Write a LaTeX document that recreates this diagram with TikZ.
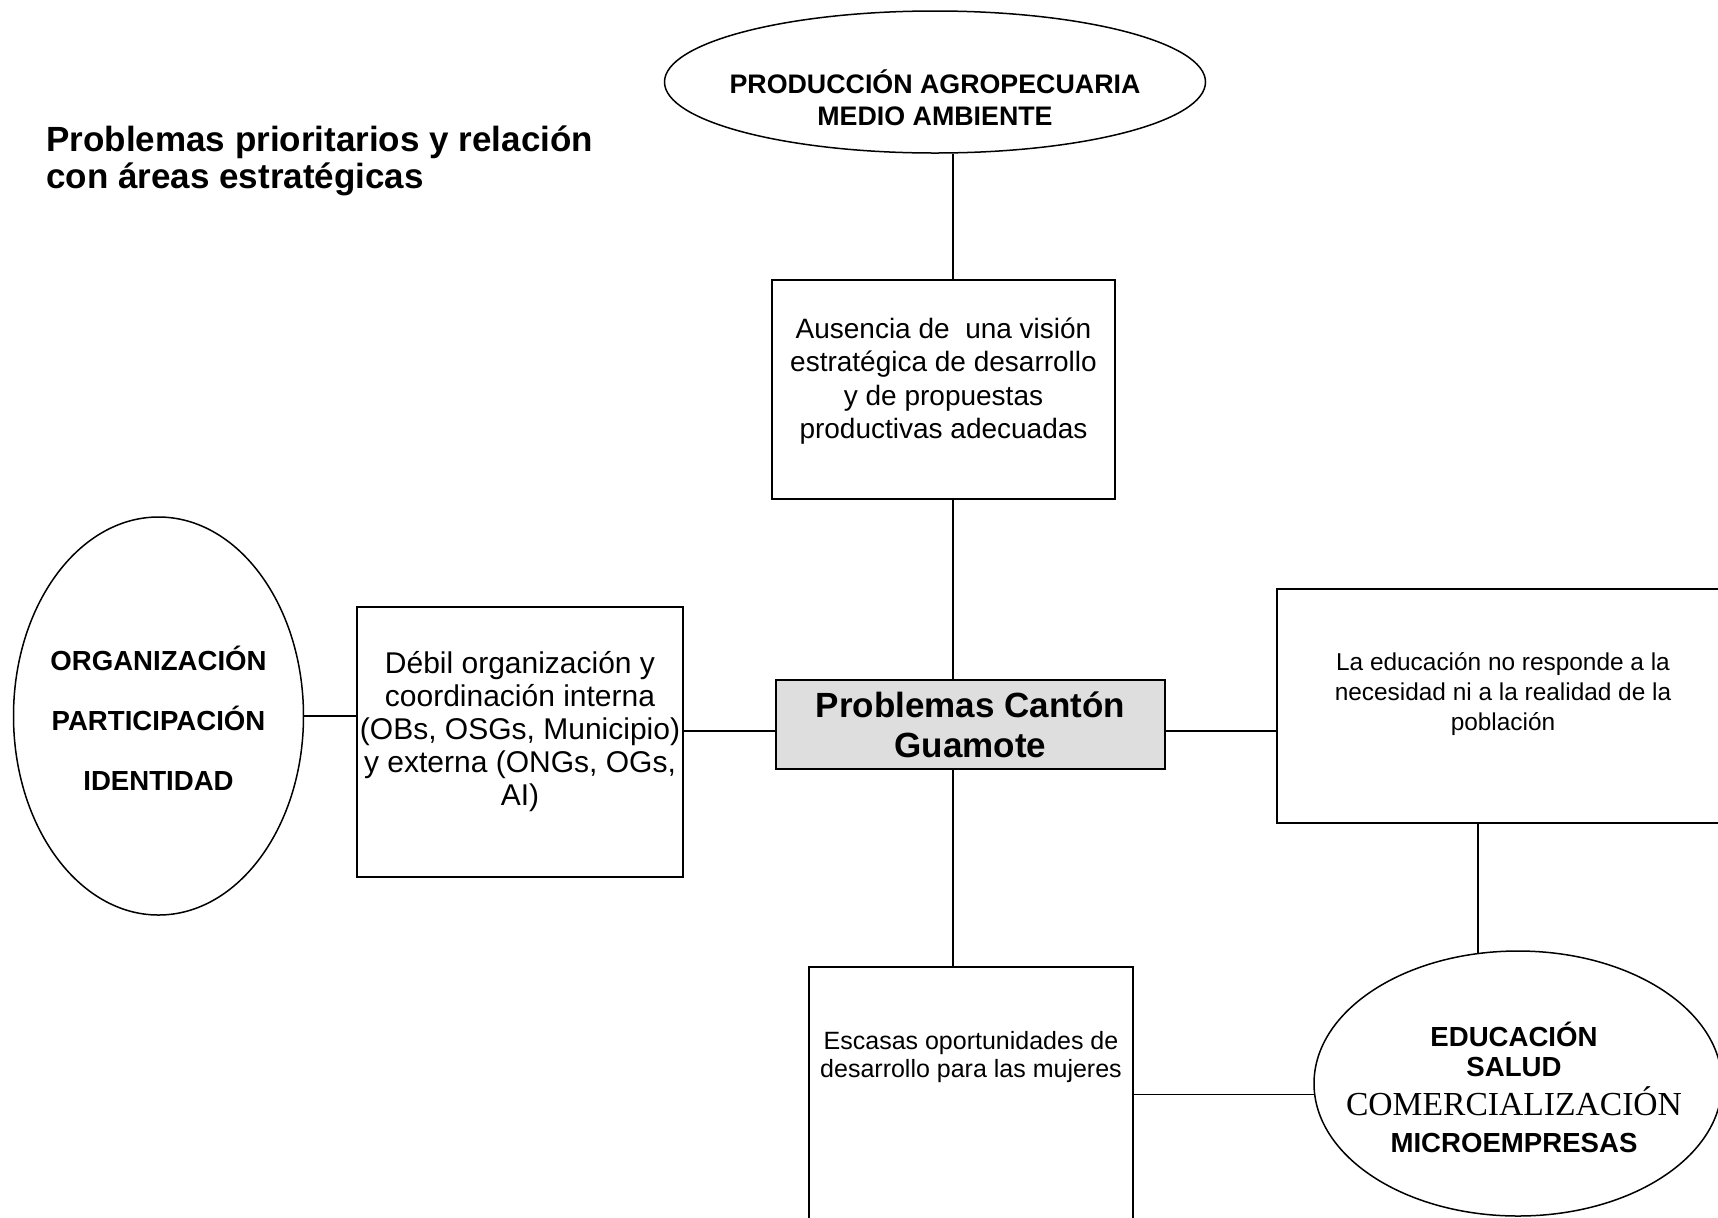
\documentclass[tikz,border=0pt]{standalone}
\usepackage{fontspec}
\setmainfont{Liberation Sans}
\newfontfamily\timesfont{Liberation Serif}
\usetikzlibrary{shapes.geometric,positioning}
\definecolor{hubgray}{HTML}{DEDEDE}

\begin{document}
\begin{tikzpicture}[x=0.5pt, y=-0.5pt,
  frame/.style={draw, rectangle, line width=0.75pt, inner sep=0pt},
  oval/.style={draw, ellipse, line width=0.75pt, inner sep=0pt},
  txt/.style={align=center, inner sep=0pt},
  link/.style={line width=0.65pt}]

  % Page
  \useasboundingbox (0,0) rectangle (1718,1217);
  \clip (0,0) rectangle (1718,1217);

  % Title
  \node[txt, align=left, anchor=north west, font=\bfseries\fontsize{17.5}{18.7}\selectfont] (title) at (46,125)
    {Problemas prioritarios y relación\\con áreas estratégicas};

  % Axis lines
  \coordinate (spine) at (953,0);
  \coordinate (midrow) at (0,731);

  % Centre
  \node[frame, fill=hubgray, minimum width=194.5pt, minimum height=44.5pt, align=center,
        font=\bfseries\fontsize{17.5}{20}\selectfont] (hub) at (970.5,724.5)
    {Problemas Cantón\\Guamote};

  % Top: vision box and area
  \node[frame, minimum width=171.5pt, minimum height=109.5pt] (vision) at (943.5,389.5) {};
  \node[txt, font=\fontsize{14}{16.8}\selectfont] (visiontxt) at ([yshift=4.25pt]vision.center)
    {Ausencia de \ una visión\\estratégica de desarrollo\\y de propuestas\\productivas adecuadas};
  \node[oval, minimum width=270.5pt, minimum height=71pt] (prod) at (935,82) {};
  \node[txt, font=\bfseries\fontsize{13.4}{16}\selectfont] (prodtxt) at ([yshift=-8pt]prod.center)
    {PRODUCCIÓN AGROPECUARIA\\MEDIO AMBIENTE};

  % Left: organisation box and area
  \node[frame, minimum width=163pt, minimum height=135pt] (debil) at (520,742) {};
  \node[txt, font=\fontsize{15}{16.5}\selectfont] (debiltxt) at ([yshift=5pt]debil.center)
    {Débil organización y\\coordinación interna\\(OBs, OSGs, Municipio)\\y externa (ONGs, OGs,\\AI)};
  \node[oval, minimum width=145pt, minimum height=199pt] (areaorg) at (158.5,716) {};
  \node[txt, font=\bfseries\fontsize{13.8}{30}\selectfont] (areaorgtxt) at ([yshift=-1pt]areaorg.center)
    {ORGANIZACIÓN\\PARTICIPACIÓN\\IDENTIDAD};

  % Right: education box
  \node[frame, minimum width=226pt, minimum height=117pt] (educ) at (1503,706) {};
  \node[txt, font=\fontsize{12.2}{14.8}\selectfont] (eductxt) at ([yshift=6pt]educ.center)
    {La educación no responde a la\\necesidad ni a la realidad de la\\población};

  % Bottom: women box and area
  \node[frame, minimum width=162pt, minimum height=166.5pt] (mujeres) at (971,1133.5) {};
  \node[txt, font=\fontsize{12.5}{14}\selectfont] (mujerestxt) at (971,1057)
    {Escasas oportunidades de\\desarrollo para las mujeres};
  \node[oval, minimum width=204pt, minimum height=132.5pt] (areaedu) at (1518,1083.5) {};
  \node[txt, font=\bfseries\fontsize{13.8}{15}\selectfont] (areaedutxt) at ([xshift=-2pt, yshift=-2pt]areaedu.center)
    {EDUCACIÓN\\SALUD\\[4.5pt]{\timesfont\mdseries\fontsize{16.8}{15}\selectfont COMERCIALIZACIÓN}\\[3.5pt]MICROEMPRESAS};

  % Connectors
  \draw[link] (prod.south -| spine) -- (vision.north -| spine);
  \draw[link] (vision.south -| spine) -- (hub.north -| spine);
  \draw[link] (hub.south -| spine) -- (mujeres.north -| spine);
  \draw[link] (areaorg.east) -- (areaorg.east -| debil.west);
  \draw[link] (debil.east |- midrow) -- (hub.west |- midrow);
  \draw[link] (hub.east |- midrow) -- (educ.west |- midrow);
  \draw[link] (educ.south -| areaedu.107.5) -- (areaedu.107.5);
  \draw[link] (areaedu.183) -- (areaedu.183 -| mujeres.east);

\end{tikzpicture}
\end{document}
